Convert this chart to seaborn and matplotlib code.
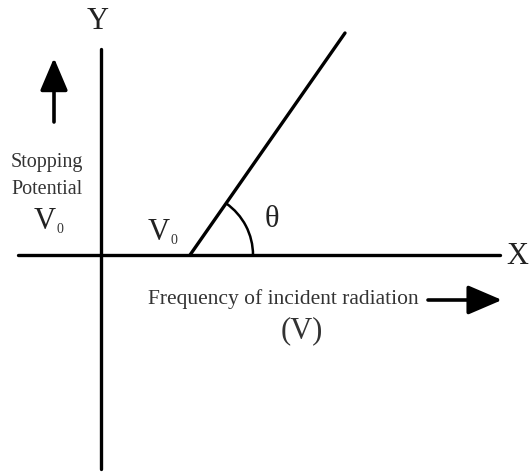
import numpy as np
import pandas as pd
import seaborn as sns
import matplotlib.pyplot as plt
from matplotlib.patches import Arc

# diagram units: origin where the axes cross, 1 unit ~ 1 px
x_axis_x = [-83, 399]
x_axis_y = [0, 0]
y_axis_x = [0, 0]
y_axis_y = [-214, 206]

# stopping potential vs frequency (threshold at nu0)
freq = [89, 244]
stop_pot = [0, 222]

sns.set_style('white')
plt.rcParams['font.family'] = ['Liberation Serif', 'DejaVu Serif']

fig = plt.figure(figsize=(5.32, 4.73), dpi=100)
ax = fig.add_axes([0, 0, 1, 1])

lw = 2.4
sns.lineplot(x=x_axis_x, y=x_axis_y, ax=ax, color='black', linewidth=lw, sort=False, estimator=None)
sns.lineplot(x=y_axis_x, y=y_axis_y, ax=ax, color='black', linewidth=lw, sort=False, estimator=None)
sns.lineplot(x=freq, y=stop_pot, ax=ax, color='black', linewidth=lw, sort=False, estimator=None)

# angle arc
theta = np.degrees(np.arctan2(stop_pot[1] - stop_pot[0], freq[1] - freq[0]))
ax.add_patch(Arc((freq[0], 0), 126, 126, theta1=0, theta2=theta, color='black', linewidth=1.8))

ax.set_xlim(-101, 431)
ax.set_ylim(-218, 255)
ax.axis('off')

big = 22
ax.text(-3, 233, 'Y', fontsize=big, ha='center', va='center', color='#222222')
ax.text(416, -2, 'X', fontsize=big, ha='center', va='center', color='#222222')
ax.text(171, 36, 'θ', fontsize=big, ha='center', va='center', color='#222222')

ax.text(-54, 92, 'Stopping', fontsize=14.5, ha='center', va='center', color='#333333')
ax.text(-54, 66, 'Potential', fontsize=14.5, ha='center', va='center', color='#333333')
ax.text(-56, 34, 'V', fontsize=big, ha='center', va='center', color='#222222')
ax.text(-41, 26, '0', fontsize=10, ha='center', va='center', color='#333333')
ax.text(58, 23, 'V', fontsize=big, ha='center', va='center', color='#222222')
ax.text(73, 15, '0', fontsize=10, ha='center', va='center', color='#333333')

ax.text(182, -44, 'Frequency of incident radiation', fontsize=15.5, ha='center', va='center', color='#333333')
ax.text(201, -76, '(V)', fontsize=big, ha='center', va='center', color='#333333')

# direction arrows
ax.annotate('', xy=(-47, 197), xytext=(-47, 133),
            arrowprops=dict(arrowstyle='-|>,head_length=2.0,head_width=0.85', color='black', lw=2.6,
                            shrinkA=0, shrinkB=0))
ax.annotate('', xy=(401, -45), xytext=(327, -45),
            arrowprops=dict(arrowstyle='-|>,head_length=2.1,head_width=0.9', color='black', lw=2.6,
                            shrinkA=0, shrinkB=0))

fig.savefig('out.png', dpi=100)
